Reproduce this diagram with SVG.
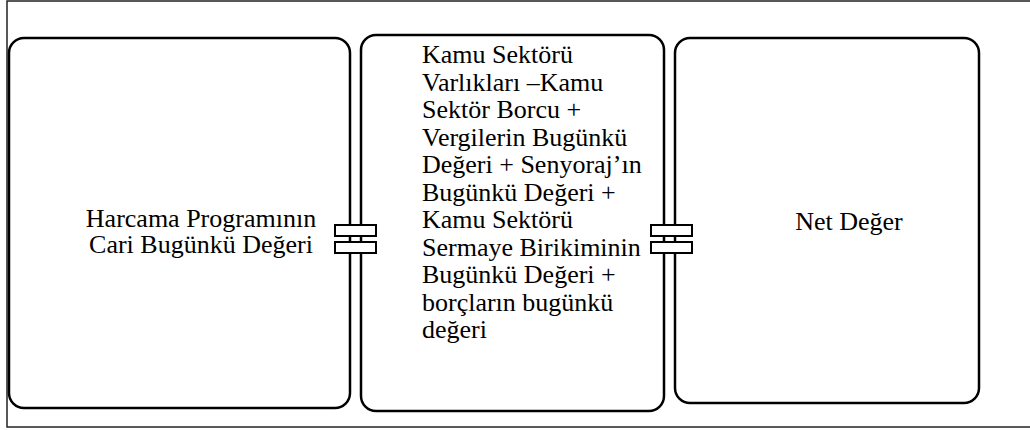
<svg xmlns="http://www.w3.org/2000/svg" width="1030" height="430" viewBox="0 0 1030 430">
  <style>
    .frame { fill: none; stroke: #222; stroke-width: 1.5; }
    .box { fill: #fff; stroke: #000; stroke-width: 2.5; }
    .plate { fill: #fff; stroke: #000; stroke-width: 2; }
    .lbl { font-family: "Liberation Serif", "Times New Roman", serif; font-size: 26px; fill: #000; }
    .mid { text-anchor: middle; }
  </style>
  <rect width="1030" height="430" fill="#fff"/>
  <rect class="frame" x="7" y="1" width="1030" height="426"/>

  <g id="node-harcama">
    <rect class="box" x="9" y="38" width="341" height="370" rx="15" ry="15"/>
    <text class="lbl mid" x="201" y="227">Harcama Programının</text>
    <text class="lbl mid" x="201" y="253">Cari Bugünkü Değeri</text>
  </g>

  <g id="node-kamu">
    <rect class="box" x="361" y="35" width="303" height="376" rx="15" ry="15"/>
    <text class="lbl" x="422" y="63">Kamu Sektörü</text>
    <text class="lbl" x="422" y="91">Varlıkları –Kamu</text>
    <text class="lbl" x="422" y="118">Sektör Borcu +</text>
    <text class="lbl" x="422" y="146">Vergilerin Bugünkü</text>
    <text class="lbl" x="422" y="173">Değeri + Senyoraj’ın</text>
    <text class="lbl" x="422" y="201">Bugünkü Değeri +</text>
    <text class="lbl" x="422" y="228">Kamu Sektörü</text>
    <text class="lbl" x="422" y="256">Sermaye Birikiminin</text>
    <text class="lbl" x="422" y="283">Bugünkü Değeri +</text>
    <text class="lbl" x="422" y="311">borçların bugünkü</text>
    <text class="lbl" x="422" y="338">değeri</text>
  </g>

  <g id="node-net">
    <rect class="box" x="675" y="38" width="304" height="365" rx="15" ry="15"/>
    <text class="lbl mid" x="849" y="230">Net Değer</text>
  </g>

  <g id="connectors">
    <!-- equals-sign joints between adjacent boxes -->
    <rect class="plate" x="335" y="225" width="41" height="11"/>
    <rect class="plate" x="335" y="242" width="41" height="11"/>
    <rect class="plate" x="651" y="225" width="41" height="11"/>
    <rect class="plate" x="651" y="242" width="41" height="11"/>
  </g>
</svg>
